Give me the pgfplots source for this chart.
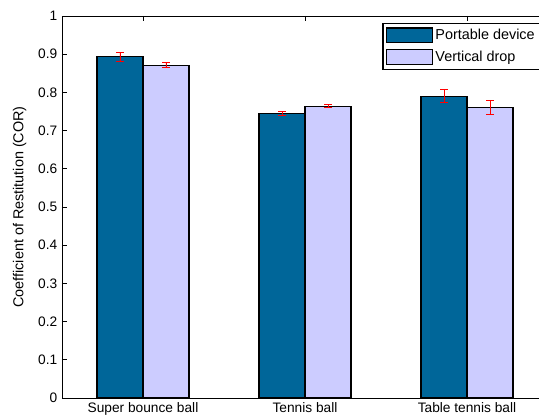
\documentclass[border=0pt]{standalone}
\usepackage{fontspec}
\setmainfont{Liberation Sans}
\usepackage{pgfplots}
\pgfplotsset{compat=1.18}
\definecolor{darkb}{RGB}{0,102,153}
\definecolor{lav}{RGB}{204,204,255}
\begin{document}
\begin{tikzpicture}
\begin{axis}[name=ax,
  width=364.5pt, height=286.5pt, scale only axis,
  xmin=0.5, xmax=3.5, ymin=0, ymax=1,
  ybar=0pt, bar width=34.5pt,
  xtick={1,2,3},
  xticklabels={Super bounce ball, Tennis ball, Table tennis ball},
  ytick={0,0.1,0.2,0.3,0.4,0.5,0.6,0.7,0.8,0.9,1},
  yticklabels={0,0.1,0.2,0.3,0.4,0.5,0.6,0.7,0.8,0.9,1},
  tick align=inside,
  major tick length=4pt,
  tick style={black, line width=0.5pt},
  axis line style={black, line width=0.7pt},
  ticklabel style={font=\fontsize{10.3}{12}\selectfont},
  /pgf/number format/assume math mode=true,
  xtick pos=both, ytick pos=both,
  ylabel={Coefficient of Restitution (COR)},
  ylabel style={font=\fontsize{10.8}{12}\selectfont, yshift=2pt},
  legend style={at={(1,1)}, anchor=north east, xshift=-5pt, yshift=-5pt,
    draw=black, line width=0.9pt, font=\fontsize{10.8}{13}\selectfont,
    row sep=3pt, inner sep=2.5pt},
  legend cell align=left,
  legend image code/.code={\draw[#1,draw=black,line width=0.8pt] (0pt,-5.6pt) rectangle (34pt,5.6pt);},
]
\addplot+[fill=darkb, draw=black, line width=0.8pt, mark=none,
  error bars/.cd, y dir=both, y explicit, error mark=|,
  error bar style={red, line width=0.7pt},
  error mark options={red, mark size=3pt, line width=0.7pt}]
  coordinates {(1,0.8935) +- (0,0.012) (2,0.745) +- (0,0.006) (3,0.790) +- (0,0.017)};
\addplot+[fill=lav, draw=black, line width=0.8pt, mark=none,
  error bars/.cd, y dir=both, y explicit, error mark=|,
  error bar style={red, line width=0.7pt},
  error mark options={red, mark size=3pt, line width=0.7pt}]
  coordinates {(1,0.871) +- (0,0.0065) (2,0.764) +- (0,0.004) (3,0.760) +- (0,0.018)};
\legend{Portable device, Vertical drop}
\end{axis}
\pgfresetboundingbox
\useasboundingbox ([shift={(-46.5pt,-16.5pt)}]ax.south west) rectangle ([shift={(357.75pt,298.5pt)}]ax.south west);
\end{tikzpicture}
\end{document}
